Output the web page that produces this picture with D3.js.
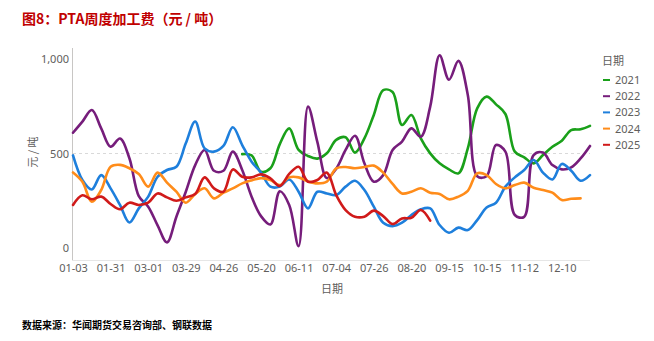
<!DOCTYPE html>
<html><head><meta charset="utf-8">
<script src="https://cdn.jsdelivr.net/npm/d3@7/dist/d3.min.js"></script>
<style>
html,body{margin:0;padding:0;background:#fff;}
svg{display:block;}
</style></head>
<body>
<svg id="chart" width="654" height="341"></svg>
<script>
const dates = ["01-03","01-10","01-17","01-24","01-31","02-07","02-15","02-22","03-01","03-08","03-15","03-22","03-29","04-05","04-12","04-19","04-26","05-02","05-08","05-14","05-20","05-26","05-31","06-05","06-11","06-17","06-23","06-28","07-04","07-09","07-15","07-20","07-26","08-01","08-07","08-13","08-20","08-26","09-02","09-08","09-15","09-22","09-29","10-08","10-15","10-22","10-29","11-05","11-12","11-19","11-26","12-03","12-10","12-17","12-24","12-31"];
const xTickLabels = ["01-03","01-31","03-01","03-29","04-26","05-20","06-11","07-04","07-26","08-20","09-15","10-15","11-12","12-10"];
const yTicks = [0, 500, 1000];
const seriesNames = ["2021","2022","2023","2024","2025"];
const seriesColors = ["#1aa01a","#761d7b","#1e7fdc","#ff8c1a","#d01a1a"];

const v2021 = [null,null,null,null,null,null,null,null,null,null,null,null,null,null,null,null,null,null,
  497,490,404,422,550,633,519,487,473,501,572,586,505,580,704,835,825,651,704,580,501,448,416,395,527,739,801,760,709,510,480,448,492,536,568,624,628,646];
const v2022 = [610,669,730,633,536,579,475,275,219,120,30,166,298,439,519,409,409,510,413,272,169,125,300,228,10,748,560,370,420,519,594,448,351,386,519,563,633,589,748,1020,890,990,810,380,380,545,510,175,165,492,505,439,416,427,474,540];
const v2023 = [490,360,310,386,316,228,135,210,272,377,413,430,554,669,527,510,540,639,545,457,399,325,325,363,298,210,298,289,280,325,356,307,219,134,116,134,175,205,210,122,81,108,95,148,215,240,325,374,413,466,399,363,445,409,356,386];
const v2024 = [400,351,245,307,430,440,422,392,325,399,346,298,240,286,316,263,293,316,342,358,370,360,333,374,374,353,342,351,422,429,422,429,436,399,339,289,298,316,293,286,258,272,303,395,386,339,316,333,346,319,307,293,254,261,263,null];
const v2025 = [228,279,258,272,233,205,240,228,240,289,268,250,268,286,374,316,298,416,377,374,390,369,328,392,430,351,360,399,280,201,166,166,198,169,127,157,160,201,145,null,null,null,null,null,null,null,null,null,null,null,null,null,null,null,null,null];
const seriesValues = [v2021, v2022, v2023, v2024, v2025];

const svg = d3.select("#chart");
svg.append("rect").attr("width",654).attr("height",341).attr("fill","#fff");

const cjk = "'Noto Sans CJK SC', 'Noto Sans', sans-serif";
const latin = "'Segoe UI', 'Noto Sans', 'DejaVu Sans', sans-serif";
const grey = "#605e5c";

const x = d3.scalePoint().domain(dates).range([73, 590]);
const y = d3.scaleLinear().domain([-63, 1058]).range([260, 48]);

// title
svg.append("text").attr("x",22).attr("y",24)
  .attr("font-family",cjk).attr("font-size",14).attr("font-weight","bold")
  .attr("fill","#c00000").text("图8：PTA周度加工费（元 / 吨）");

// grid line at 500
svg.append("line").attr("x1",73).attr("x2",590).attr("y1",y(500)).attr("y2",y(500))
  .attr("stroke","#d9d9d9").attr("stroke-dasharray","3,3").attr("stroke-width",1);

// axes lines
svg.append("line").attr("x1",72.5).attr("x2",72.5).attr("y1",48).attr("y2",260)
  .attr("stroke","#c8c6c4").attr("stroke-width",1);
svg.append("line").attr("x1",72).attr("x2",590).attr("y1",260.5).attr("y2",260.5)
  .attr("stroke","#e6e6e6").attr("stroke-width",1);

// y axis
const yAxis = svg.append("g").attr("transform","translate(72,0)")
  .call(d3.axisLeft(y).tickValues(yTicks).tickFormat(d3.format(",")).tickSize(0).tickPadding(3));
yAxis.select(".domain").remove();
yAxis.selectAll("text").attr("font-family",latin).attr("font-size",11).attr("fill",grey);

// x axis
const xAxis = svg.append("g").attr("transform","translate(0,260)")
  .call(d3.axisBottom(x).tickValues(xTickLabels).tickSize(0).tickPadding(4));
xAxis.select(".domain").remove();
xAxis.selectAll("text").attr("font-family",latin).attr("font-size",11).attr("fill",grey);

// axis titles
svg.append("text").attr("x",332).attr("y",293).attr("text-anchor","middle")
  .attr("font-family",cjk).attr("font-size",11).attr("fill",grey).text("日期");
svg.append("text").attr("transform","translate(37,152) rotate(-90)").attr("text-anchor","middle")
  .attr("font-family",cjk).attr("font-size",11).attr("fill",grey).text("元 / 吨");

// lines
const line = d3.line()
  .defined(d => d != null)
  .x(d => x(d.date))
  .y(d => y(d.v))
  .curve(d3.curveCatmullRom.alpha(0.5));

seriesValues.forEach((vals, k) => {
  const pts = vals.map((v, i) => ({date: dates[i], v})).filter(p => p.v != null);
  svg.append("path").datum(pts).attr("d", line)
    .attr("fill","none").attr("stroke",seriesColors[k]).attr("stroke-width",2.6)
    .attr("stroke-linejoin","round").attr("stroke-linecap","round");
});

// legend
svg.append("text").attr("x",602).attr("y",65).attr("font-family",cjk).attr("font-size",11)
  .attr("fill",grey).text("日期");
seriesNames.forEach((n, k) => {
  const yy = 80 + k*16.2;
  svg.append("line").attr("x1",603).attr("x2",610).attr("y1",yy).attr("y2",yy)
    .attr("stroke",seriesColors[k]).attr("stroke-width",2);
  svg.append("text").attr("x",615).attr("y",yy+4).attr("font-family",latin).attr("font-size",11)
    .attr("fill",grey).text(n);
});

// footer
svg.append("text").attr("x",22).attr("y",329).attr("font-family",cjk).attr("font-size",10)
  .attr("font-weight","bold").attr("fill","#000").text("数据来源：华闻期货交易咨询部、钢联数据");
</script>
</body></html>
